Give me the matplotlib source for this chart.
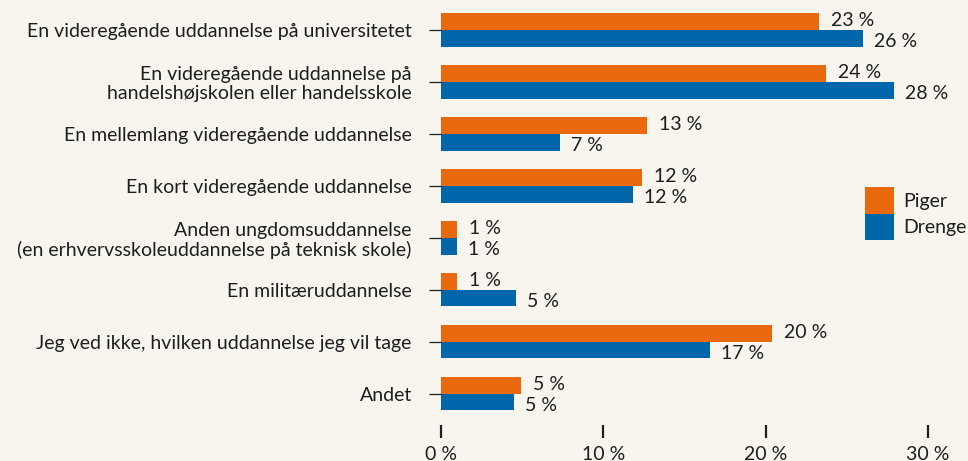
import matplotlib.pyplot as plt
import numpy as np

plt.rcParams['font.family'] = ['Lato', 'DejaVu Sans']

categories = [
    'En videregående uddannelse på universitetet',
    'En videregående uddannelse på\nhandelshøjskolen eller handelsskole',
    'En mellemlang videregående uddannelse',
    'En kort videregående uddannelse',
    'Anden ungdomsuddannelse\n(en erhvervsskoleuddannelse på teknisk skole)',
    'En militæruddannelse',
    'Jeg ved ikke, hvilken uddannelse jeg vil tage',
    'Andet',
]
piger = [23.3, 23.7, 12.7, 12.4, 1.0, 1.0, 20.4, 4.9]
drenge = [26.0, 27.9, 7.3, 11.8, 1.0, 4.6, 16.6, 4.5]
piger_labels = ['23 %', '24 %', '13 %', '12 %', '1 %', '1 %', '20 %', '5 %']
drenge_labels = ['26 %', '28 %', '7 %', '12 %', '1 %', '5 %', '17 %', '5 %']
xticks = [0, 10, 20, 30]
xtick_labels = ['0 %', '10 %', '20 %', '30 %']

bg = '#f8f5ef'
orange = '#e9690c'
blue = '#0066aa'
txt = '#1e1e1e'
fs = 14

fig = plt.figure(figsize=(9.68, 4.61), dpi=100, facecolor=bg)
ax = fig.add_axes([441 / 968, 36 / 461, (928 - 441) / 968, 421 / 461])
ax.set_facecolor(bg)

y = np.arange(len(categories))
h = 0.32
ax.barh(y - h / 2, piger, height=h, color=orange, label='Piger')
ax.barh(y + h / 2, drenge, height=h, color=blue, label='Drenge')

for i in range(len(categories)):
    ax.annotate(piger_labels[i], (piger[i], y[i] - h / 2), xytext=(12, 1),
                textcoords='offset pixels', va='center', ha='left',
                fontsize=fs, color=txt)
    ax.annotate(drenge_labels[i], (drenge[i], y[i] + h / 2), xytext=(11, -3),
                textcoords='offset pixels', va='center', ha='left',
                fontsize=fs, color=txt)

ax.set_xlim(0, 30)
ax.set_ylim(7.6, -0.5)
ax.set_yticks(y)
ax.set_yticklabels(categories, fontsize=fs, color=txt, ha='right',
                   linespacing=1.12)
ax.set_xticks(xticks)
ax.set_xticklabels(xtick_labels, fontsize=fs, color=txt)
ax.tick_params(axis='y', length=9, width=0.9, color=txt, pad=12)
ax.tick_params(axis='x', length=9, width=1.6, color=txt, pad=6)
for s in ax.spines.values():
    s.set_visible(False)

ax.legend(loc='upper left', bbox_to_anchor=(865 / 968, (461 - 187) / 461),
          bbox_transform=fig.transFigure, frameon=False, fontsize=fs,
          handlelength=1.5, handleheight=1.72, labelspacing=0,
          handletextpad=0.45, borderpad=0, borderaxespad=0,
          labelcolor=txt)

fig.savefig('out.png', dpi=100, facecolor=bg)
